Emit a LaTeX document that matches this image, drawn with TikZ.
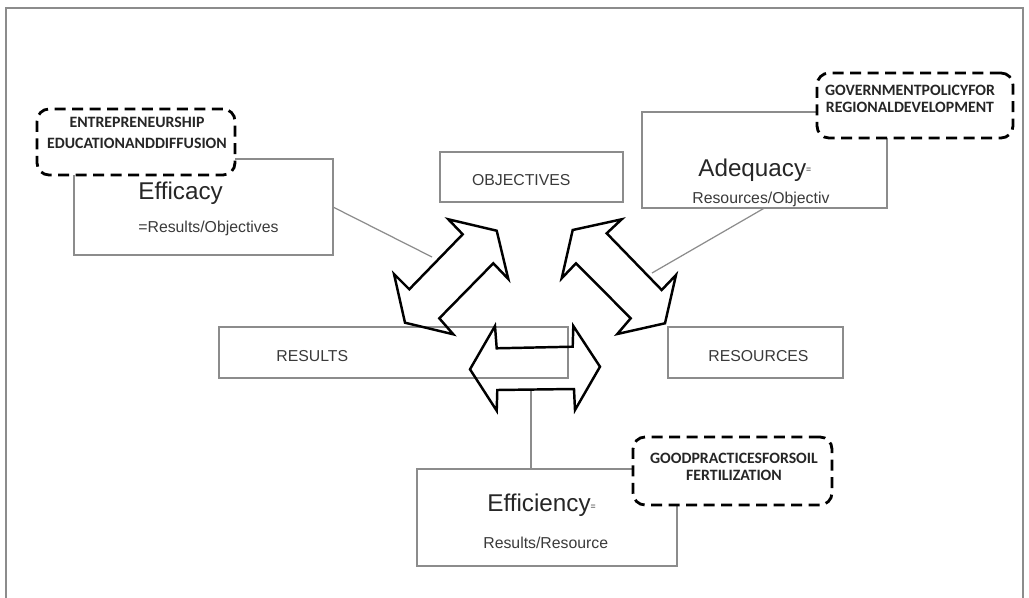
\documentclass[tikz,border=0pt]{standalone}
\usepackage{fontspec}
\setmainfont{Liberation Sans}
\newfontfamily\calibri{Carlito}
\definecolor{boxline}{HTML}{8C8C8C}
\definecolor{boxtext}{HTML}{3A3A3A}
\begin{document}
\begin{tikzpicture}[x=0.02cm, y=-0.02cm,
    box/.style={draw=boxline, line width=0.8pt, inner sep=0pt, outer sep=0pt},
    note/.style={draw=black, fill=white, line width=1.6pt, dash pattern=on 0.22cm off 0.13cm,
                 rounded corners=0.24cm, inner sep=0pt, outer sep=0pt},
    notetext/.style={align=center, anchor=base, inner sep=0pt, text=black!85},
    bigword/.style={font=\fontsize{13.8}{16}\selectfont, anchor=base west, inner sep=0pt, text=black!85},
    smallword/.style={font=\fontsize{9}{11}\selectfont, anchor=base west, inner sep=0pt, text=boxtext},
    blockarrow/.style={draw=black, line width=1.4pt, line join=miter},
    link/.style={draw=boxline, line width=0.7pt}]
            \useasboundingbox (0,0) rectangle (1029,598);
            \draw[boxline, line width=0.6pt] (6,598) -- (6,8) -- (1023,8) -- (1023,598);
            % plain boxes
            \node[box, minimum width=5.18cm, minimum height=1.92cm] (effic) at (203.5,207) {};
            \node[box, minimum width=3.66cm, minimum height=1.0cm] (obj) at (531.5,177) {};
            \node[box, minimum width=4.9cm, minimum height=1.92cm] (adeq) at (764.5,160) {};
            \node[box, minimum width=6.98cm, minimum height=1.02cm] (res) at (393.5,352.5) {};
            \node[box, minimum width=3.5cm, minimum height=1.02cm] (rsc) at (755.5,352.5) {};
            \node[box, minimum width=5.2cm, minimum height=1.94cm] (effcy) at (547,517.5) {};
            % arrow ends
            \coordinate (efficArr) at (432,257);
            \coordinate (adeqArr) at (652,273);
            \coordinate (effcyArr) at (531,390);
            \draw[link] (effic.east) -- (efficArr);
            \draw[link] (adeq.south) -- (adeqArr);
            \draw[link] (effcyArr) -- (effcyArr |- effcy.north);
            % double arrows
            \draw[blockarrow] (448.3,219.3) -- (496.7,230.7) -- (508.3,279) -- (493.3,263.3) -- (439.3,318.3)
                -- (453.3,334.3) -- (405,322.7) -- (394,274) -- (409.3,289.3) -- (462.7,234.3) -- cycle;
            \draw[blockarrow] (621.7,219.3) -- (572.7,230) -- (561.7,278.3) -- (576,263.3) -- (630.7,318.3)
                -- (617.3,334) -- (665,323.3) -- (676,275) -- (661.7,290) -- (606.7,233.3) -- cycle;
            \draw[blockarrow] (470,369.3) -- (495,326) -- (496.7,348.3) -- (572.7,346.7) -- (573.3,326)
                -- (600,366.7) -- (575,410) -- (574,389) -- (497.3,390) -- (496.7,410.7) -- cycle;
            % dashed notes
            \node[note, minimum width=3.96cm, minimum height=1.32cm] (entre) at (136,142) {};
            \node[note, minimum width=3.92cm, minimum height=1.3cm] (gov) at (915,105.5) {};
            \node[note, minimum width=3.98cm, minimum height=1.36cm] (soil) at (732.5,471) {};
            \node[notetext, font=\calibri\bfseries\fontsize{9}{11.9}\selectfont] (entreTxt) at (137,148.3)
                {ENTREPRENEURSHIP\\EDUCATIONANDDIFFUSION};
            \node[notetext, font=\calibri\bfseries\fontsize{9}{9.5}\selectfont] (govTxt) at (910,112.3)
                {GOVERNMENTPOLICYFOR\\REGIONALDEVELOPMENT};
            \node[notetext, font=\calibri\bfseries\fontsize{9}{9.5}\selectfont] (soilTxt) at (734,480)
                {GOODPRACTICESFORSOIL\\FERTILIZATION};
            % box texts
            \node[bigword] (efficTitle) at (138,200) {Efficacy};
            \node[smallword] (efficRatio) at (138,232.7) {=Results/Objectives};
            \node[smallword] (objTxt) at (471.7,186) {OBJECTIVES};
            \node[bigword] (adeqTitle) at (698,176.7) {Adequacy{\fontsize{5}{6}\selectfont\raisebox{2.5pt}{=}}};
            \node[smallword] (adeqRatio) at (692,204) {Resources/Objectiv};
            \node[smallword] (resTxt) at (276,361.7) {RESULTS};
            \node[smallword] (rscTxt) at (708,361.7) {RESOURCES};
            \node[bigword] (effcyTitle) at (487,511.7) {Efficiency{\fontsize{5}{6}\selectfont\raisebox{1pt}{=}}};
            \node[smallword] (effcyRatio) at (483,548.3) {Results/Resource};
        \end{tikzpicture}
\end{document}
